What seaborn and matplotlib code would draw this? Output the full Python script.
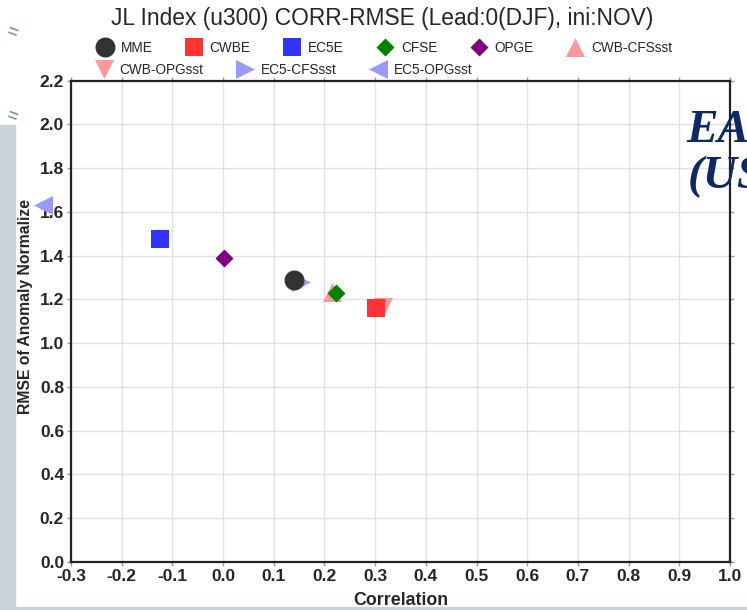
import pandas as pd
import numpy as np
import matplotlib
matplotlib.use("Agg")
import matplotlib.pyplot as plt
import seaborn as sns
from matplotlib.patches import Rectangle

# values
models = ['MME', 'CWBE', 'EC5E', 'CFSE', 'OPGE',
          'CWB-CFSsst', 'CWB-OPGsst', 'EC5-CFSsst', 'EC5-OPGsst']
corr = [0.14, 0.302, -0.125, 0.222, 0.001, 0.215, 0.315, 0.153, -0.356]
rmse = [1.289, 1.162, 1.475, 1.231, 1.391, 1.234, 1.165, 1.28, 1.632]

xticks = [-0.3, -0.2, -0.1, 0.0, 0.1, 0.2, 0.3, 0.4, 0.5, 0.6, 0.7, 0.8, 0.9, 1.0]
yticks = [0.0, 0.2, 0.4, 0.6, 0.8, 1.0, 1.2, 1.4, 1.6, 1.8, 2.0, 2.2]

title = "JL Index (u300) CORR-RMSE (Lead:0(DJF), ini:NOV)"

# styles per model
model_colors = {'MME': '#333333', 'CWBE': '#ff3333', 'EC5E': '#3333ff',
                'CFSE': '#008000', 'OPGE': '#800080', 'CWB-CFSsst': '#ff9999',
                'CWB-OPGsst': '#ff9999', 'EC5-CFSsst': '#9999ff', 'EC5-OPGsst': '#9999ff'}
model_markers = {'MME': 'o', 'CWBE': 's', 'EC5E': 's', 'CFSE': 'D', 'OPGE': 'D',
                 'CWB-CFSsst': '^', 'CWB-OPGsst': 'v', 'EC5-CFSsst': '>', 'EC5-OPGsst': '<'}
model_sizes = {'o': 207, 's': 187, 'D': 84, '^': 187, 'v': 187, '>': 187, '<': 187}

df = pd.DataFrame({'model': models, 'corr': corr, 'rmse': rmse})

sns.set_style("white")
plt.rcParams['font.family'] = ['Liberation Sans', 'DejaVu Sans']

fig = plt.figure(figsize=(7.47, 6.1), dpi=100)

# slide background bits around the chart
fig.patches.append(Rectangle((0, 0), 15 / 747, 1 - 125 / 610, transform=fig.transFigure,
                             color='#c9d4da', zorder=0))
fig.patches.append(Rectangle((0, 0), 1, 3 / 610, transform=fig.transFigure,
                             color='#c9d4da', zorder=0))
for yy in [33, 117]:
    fig.text(12 / 747, 1 - yy / 610, '=', fontsize=13, weight='bold', color='#7a9898',
             rotation=-20, ha='center', va='center')
fig.text(686 / 747, 1 - 142 / 610, 'EA', fontsize=34, family='Liberation Serif',
         weight='bold', style='italic', color='#0b2a66', ha='left', va='baseline')
fig.text(688 / 747, 1 - 188 / 610, '(US', fontsize=34, family='Liberation Serif',
         weight='bold', style='italic', color='#0b2a66', ha='left', va='baseline')

ax = fig.add_axes([0.095, 0.0787, 0.8822, 0.789])

# draw in reverse order so the main models sit on top
for i, name in reversed(list(enumerate(models))):
    sub = df[df['model'] == name]
    mk = model_markers[name]
    sns.scatterplot(data=sub, x='corr', y='rmse', ax=ax, marker=mk,
                    color=model_colors[name], s=model_sizes[mk], linewidth=0,
                    label=name, clip_on=False, zorder=3 + len(models) - i)

ax.set_xlim(-0.3, 1.0)
ax.set_ylim(0.0, 2.2)
ax.set_xticks(xticks)
ax.set_yticks(yticks)
ax.set_xticklabels(['%.1f' % v for v in xticks], fontsize=12.5, weight='bold')
ax.set_yticklabels(['%.1f' % v for v in yticks], fontsize=12.5, weight='bold')
ax.tick_params(axis='both', which='both', direction='out', length=3, width=1,
               color='#999999', pad=2, top=True, right=True, bottom=True, left=True)
ax.grid(True, color='#e2e2e2', linewidth=1)
ax.set_axisbelow(True)
for side in ['left', 'bottom', 'top', 'right']:
    ax.spines[side].set_visible(True)
    ax.spines[side].set_color('#222222')
    ax.spines[side].set_linewidth(1.6)

ax.set_xlabel('Correlation', fontsize=12.8, weight='bold')
ax.set_ylabel('RMSE of Anomaly Normalize', fontsize=11.3, weight='bold')
ax.xaxis.set_label_coords(0.5, -0.0623)
ax.yaxis.set_label_coords(-0.057, 0.53)

ax.get_legend().remove()

handles, labels = ax.get_legend_handles_labels()
order = [labels.index(m) for m in models]
handles = [handles[k] for k in order]
labels = [labels[k] for k in order]

leg_kw = dict(frameon=False, fontsize=9.8, columnspacing=2.35, handletextpad=0.45,
              handlelength=1.4, borderpad=0, borderaxespad=0, scatteryoffsets=[0.5],
              loc='center left')
fig.legend(handles[:6], labels[:6], ncol=6, bbox_to_anchor=(95.5 / 747, 1 - 48 / 610), **leg_kw)
fig.legend(handles[6:], labels[6:], ncol=3, bbox_to_anchor=(94.5 / 747, 1 - 70 / 610), **leg_kw)

fig.text(382 / 747, 1 - 19 / 610, title, fontsize=16.4, ha='center', va='center')

fig.savefig('out.png', dpi=100)
